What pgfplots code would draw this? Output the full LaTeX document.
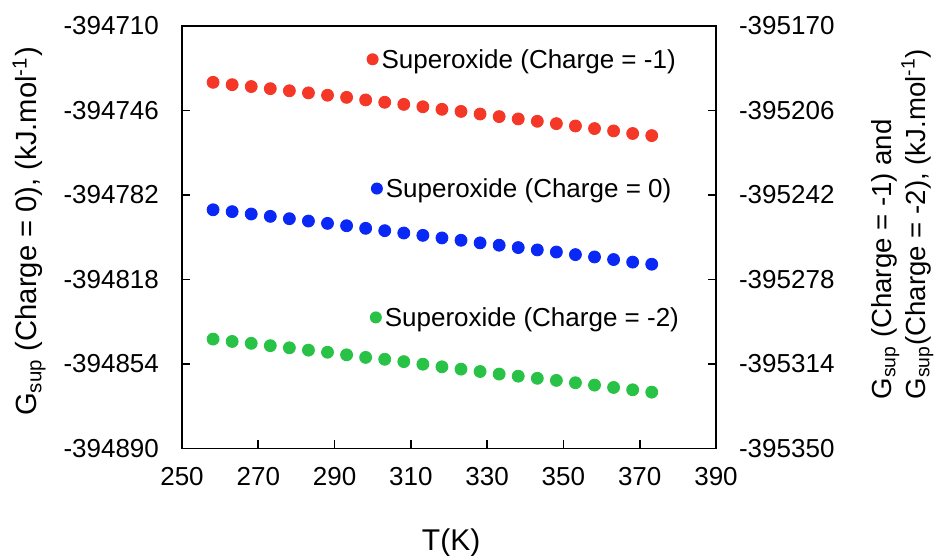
\documentclass[border=0pt]{standalone}
\usepackage{pgfplots}
\usepackage{pgfplotstable}
\pgfplotsset{compat=1.18}
\usepackage{fontspec}
\setmainfont{Liberation Sans}

\definecolor{cred}{RGB}{245,55,40}
\definecolor{cblue}{RGB}{10,40,245}
\definecolor{cgreen}{RGB}{40,195,70}

\pgfplotstableread{
T G
258.15 -394788.3
263.15 -394789.1
268.15 -394790.1
273.15 -394791.1
278.15 -394792.1
283.15 -394793.1
288.15 -394794.1
293.15 -394795.1
298.15 -394796.2
303.15 -394797.2
308.15 -394798.2
313.15 -394799.2
318.15 -394800.3
323.15 -394801.3
328.15 -394802.4
333.15 -394803.4
338.15 -394804.4
343.15 -394805.4
348.15 -394806.3
353.15 -394807.4
358.15 -394808.4
363.15 -394809.5
368.15 -394810.6
373.15 -394811.5
}\bluedata

\pgfplotstableread{
T G
258.15 -395194.0
263.15 -395195.0
268.15 -395195.8
273.15 -395196.7
278.15 -395197.6
283.15 -395198.5
288.15 -395199.5
293.15 -395200.4
298.15 -395201.5
303.15 -395202.5
308.15 -395203.4
313.15 -395204.4
318.15 -395205.5
323.15 -395206.4
328.15 -395207.5
333.15 -395208.6
338.15 -395209.6
343.15 -395210.6
348.15 -395211.6
353.15 -395212.6
358.15 -395213.7
363.15 -395214.7
368.15 -395215.8
373.15 -395216.7
}\reddata

\pgfplotstableread{
T G
258.15 -395303.4
263.15 -395304.4
268.15 -395305.2
273.15 -395306.2
278.15 -395307.1
283.15 -395308.1
288.15 -395309.0
293.15 -395310.1
298.15 -395311.2
303.15 -395312.0
308.15 -395313.0
313.15 -395314.1
318.15 -395315.2
323.15 -395316.2
328.15 -395317.2
333.15 -395318.3
338.15 -395319.2
343.15 -395320.1
348.15 -395321.0
353.15 -395322.0
358.15 -395323.0
363.15 -395324.0
368.15 -395325.0
373.15 -395326.0
}\greendata

\pgfplotsset{
  common/.style={
    scale only axis, width=267pt, height=211.25pt,
    xmin=250, xmax=390,
    tick align=inside, major tick length=4pt,
    tick style={black, line width=0.8pt},
    axis line style={black, line width=0.8pt},
    ticklabel style={font=\fontsize{13}{15}\selectfont},
    clip=false,
  }
}
\newcommand\legdot[1]{\tikz[baseline=-0.36em]\fill[#1] (0pt,0pt) circle (3pt);}

\begin{document}
\begin{tikzpicture}
\begin{axis}[common,
  ymin=-394890, ymax=-394710,
  y coord trafo/.code={\edef\pgfmathresult{\fpeval{#1+394800}}},
  y coord inv trafo/.code={\edef\pgfmathresult{\fpeval{#1-394800}}},
  xtick={250,270,290,310,330,350,370,390},
  xticklabels={250,270,290,310,330,350,370,390},
  ytick={-394890,-394854,-394818,-394782,-394746,-394710},
  yticklabels={-394890,-394854,-394818,-394782,-394746,-394710},
  xtick pos=bottom, ytick pos=left,
  yticklabel shift=8pt, xticklabel shift=6pt,
  xlabel={T(K)},
  xlabel style={at={(axis description cs:0.504,-0.222)}, anchor=center, font=\fontsize{15}{18}\selectfont},
  ylabel={G\textsubscript{sup} (Charge = 0), (kJ.mol\textsuperscript{-1})},
  ylabel style={at={(axis description cs:-0.2865,0.5136)}, anchor=center, font=\fontsize{14.6}{17}\selectfont},
]
\addplot[only marks, mark=*, mark size=3pt, color=cblue] table[x=T, y=G] {\bluedata};
\coordinate (bl) at (rel axis cs:0,0);
\coordinate (tr) at (rel axis cs:1,1);
\node[anchor=west, inner sep=0pt, font=\fontsize{13}{15}\selectfont] at (rel axis cs:0.353,0.609)
  {\legdot{cblue}\hspace{1.5pt}Superoxide (Charge = 0)};
\end{axis}
\begin{axis}[common,
  ymin=-395350, ymax=-395170,
  y coord trafo/.code={\edef\pgfmathresult{\fpeval{#1+395260}}},
  y coord inv trafo/.code={\edef\pgfmathresult{\fpeval{#1-395260}}},
  axis x line=none, axis y line*=right,
  ytick={-395350,-395314,-395278,-395242,-395206,-395170},
  yticklabels={-395350,-395314,-395278,-395242,-395206,-395170},
  ytick pos=right,
  yticklabel shift=8pt,
  ylabel={G\textsubscript{sup} (Charge = -1) and\\G\textsubscript{sup}(Charge = -2), (kJ.mol\textsuperscript{-1})},
  ylabel style={at={(axis description cs:1.408,0.531)}, anchor=south, inner sep=0pt, align=left, font=\fontsize{13.8}{16}\selectfont},
]
\addplot[only marks, mark=*, mark size=3pt, color=cred] table[x=T, y=G] {\reddata};
\addplot[only marks, mark=*, mark size=3pt, color=cgreen] table[x=T, y=G] {\greendata};
\node[anchor=west, inner sep=0pt, font=\fontsize{13}{15}\selectfont] at (rel axis cs:0.345,0.915)
  {\legdot{cred}\hspace{1.5pt}Superoxide (Charge = -1)};
\node[anchor=west, inner sep=0pt, font=\fontsize{13}{15}\selectfont] at (rel axis cs:0.351,0.304)
  {\legdot{cgreen}\hspace{1.5pt}Superoxide (Charge = -2)};
\end{axis}
\pgfresetboundingbox
\path[use as bounding box] ([shift={(-91pt,-53.75pt)}]bl) rectangle ([shift={(112.5pt,13pt)}]tr);
\end{tikzpicture}
\end{document}
